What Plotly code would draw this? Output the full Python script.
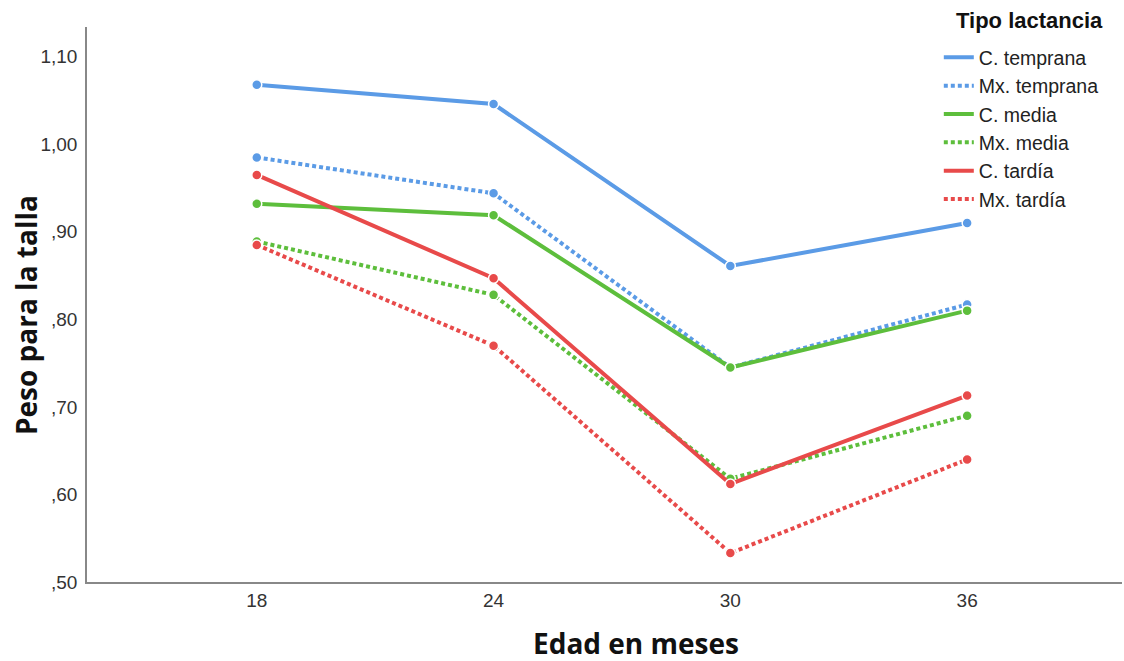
import plotly.graph_objects as go

months = ["18", "24", "30", "36"]
series_names = ["C. temprana", "Mx. temprana", "C. media", "Mx. media", "C. tardía", "Mx. tardía"]
c_temprana = [1.068, 1.046, 0.861, 0.910]
mx_temprana = [0.985, 0.944, 0.745, 0.817]
c_media = [0.932, 0.919, 0.745, 0.810]
mx_media = [0.889, 0.828, 0.618, 0.690]
c_tardia = [0.965, 0.847, 0.612, 0.713]
mx_tardia = [0.885, 0.770, 0.533, 0.640]
series_values = [c_temprana, mx_temprana, c_media, mx_media, c_tardia, mx_tardia]

y_tick_vals = [0.5, 0.6, 0.7, 0.8, 0.9, 1.0, 1.1]
y_tick_text = [",50", ",60", ",70", ",80", ",90", "1,00", "1,10"]

colors = ["#5B9BE6", "#5B9BE6", "#5DBE3C", "#5DBE3C", "#E84A4A", "#E84A4A"]
dashes = ["solid", "4px,3px", "solid", "4px,3px", "solid", "4px,3px"]

fig = go.Figure()
for name, vals, col, dash in zip(series_names, series_values, colors, dashes):
    fig.add_trace(go.Scatter(
        x=months, y=vals, name=name, mode="lines+markers", showlegend=False,
        line=dict(color=col, width=4, dash=dash),
        marker=dict(size=10, color=col, line=dict(color="white", width=1.5)),
    ))
# legend entries (line only, like the reference)
for name, col, dash in zip(series_names, colors, dashes):
    fig.add_trace(go.Scatter(
        x=[None], y=[None], name=name, mode="lines", showlegend=True,
        line=dict(color=col, width=4, dash=dash),
    ))

fig.update_layout(
    width=1124, height=661,
    paper_bgcolor="white", plot_bgcolor="white",
    margin=dict(l=87, r=2, t=27, b=79, autoexpand=False),
    font=dict(family="Liberation Sans, Arial, sans-serif", color="#333333"),
    showlegend=True,
    legend=dict(
        x=0.823, xanchor="left", y=0.980, yanchor="top",
        font=dict(size=19.5, color="#222222"),
        bgcolor="rgba(255,255,255,0)",
        itemwidth=30,
    ),
    annotations=[
        dict(text="<b>Tipo lactancia</b>", xref="paper", yref="paper",
             x=0.911, y=1.0126, xanchor="center", yanchor="middle", showarrow=False,
             font=dict(size=22, color="#111111", family="Liberation Sans, Arial, sans-serif")),
        dict(text="<b>Peso para la talla</b>", xref="paper", yref="paper",
             x=0, y=0.5, xanchor="center", yanchor="middle", xshift=-61, yshift=-10.6,
             textangle=-90, showarrow=False,
             font=dict(size=28, color="#111111", family="Open Sans, sans-serif")),
        dict(text="<b>Edad en meses</b>", xref="paper", yref="paper",
             x=0.5, y=0, xanchor="center", yanchor="middle", xshift=31, yshift=-61,
             showarrow=False,
             font=dict(size=28, color="#111111", family="Open Sans, sans-serif")),
    ],
)
fig.update_xaxes(
    type="category", range=[-0.717, 3.654],
    showline=True, linecolor="#888888", linewidth=1.5,
    showgrid=False, zeroline=False, ticks="",
    tickfont=dict(size=19, color="#333333"),
)
fig.update_yaxes(
    range=[0.5, 1.134],
    tickvals=y_tick_vals, ticktext=y_tick_text,
    showline=True, linecolor="#888888", linewidth=1.5,
    showgrid=False, zeroline=False, ticks="",
    tickfont=dict(size=19, color="#333333"),
    ticklabelstandoff=4,
)

fig.write_html(
    "out.html",
    config={"displayModeBar": False},
    post_script="document.body.style.margin='0';document.body.style.overflow='hidden';",
)
